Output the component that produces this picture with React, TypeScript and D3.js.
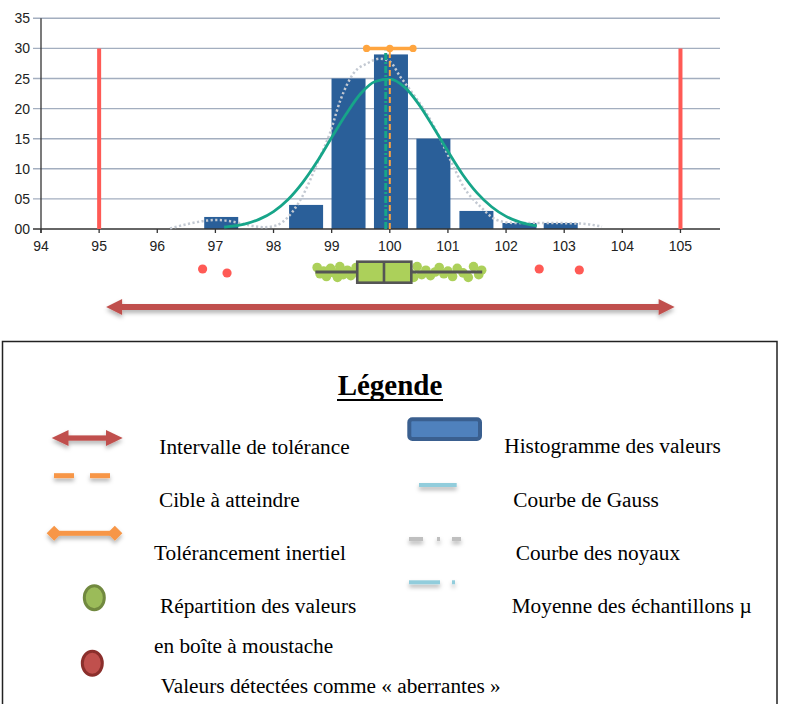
import React from "react";
import * as d3 from "d3";

// ---------- data ----------
const xTicks = [94, 95, 96, 97, 98, 99, 100, 101, 102, 103, 104, 105];
const yTicks = [0, 5, 10, 15, 20, 25, 30, 35];
const yTickLabels = ["00", "05", "10", "15", "20", "25", "30", "35"];

const binCenters = [97.1, 98.56, 99.29, 100.02, 100.75, 101.49, 102.23, 102.94];
const binCounts = [2, 4, 25, 29, 15, 3, 1, 1];

const gaussX = [97.15, 97.5, 97.75, 98.0, 98.25, 98.5, 98.75, 99.0, 99.25, 99.5, 99.75, 100.0, 100.25, 100.5, 100.75, 101.0, 101.25, 101.5, 101.75, 102.0, 102.25, 102.53];
const gaussY = [0.3, 0.8, 1.6, 2.9, 4.9, 7.7, 11.2, 15.2, 19.1, 22.5, 24.5, 24.9, 23.6, 20.7, 16.9, 12.9, 9.1, 6.0, 3.7, 2.1, 1.1, 0.5];

const kernelX = [96.22, 96.56, 96.85, 97.05, 97.31, 97.65, 97.85, 98.05, 98.25, 98.46, 98.8, 98.97, 99.15, 99.38, 99.61, 99.83, 100.0, 100.18, 100.35, 100.7, 101.04, 101.27, 101.56, 101.84, 102.13, 102.7, 103.28, 103.65];
const kernelY = [0.1, 0.9, 1.4, 1.5, 1.2, 0.5, 0.3, 0.6, 2.0, 4.8, 12, 15.9, 21.4, 25.9, 27.5, 28.3, 27.8, 25.3, 23.1, 18.1, 11.5, 7, 3.7, 1.5, 1.0, 1.0, 0.9, 0.4];

const toleranceLimits = [95, 105];
const toleranceLimitHeight = 30;
const target = 100;
const targetHeight = 30;
const sampleMean = 99.93;
const meanHeight = 29.6;
const inertialRange = [99.6, 100.4];
const inertialLevel = 30;

const boxStats = { whiskerLow: 98.72, q1: 99.44, median: 99.9, q3: 100.37, whiskerHigh: 101.59 };
const values = [98.75, 98.8, 98.86, 98.91, 98.98, 99.04, 99.1, 99.14, 99.2, 99.27, 99.33, 99.37, 99.42, 99.47, 99.52, 99.58, 99.63, 99.69, 99.74, 99.8, 99.85, 99.9, 99.96, 100.01, 100.07, 100.12, 100.18, 100.23, 100.29, 100.34, 100.41, 100.47, 100.55, 100.62, 100.7, 100.78, 100.85, 100.93, 101.0, 101.08, 101.16, 101.26, 101.35, 101.44, 101.53, 101.58];
const outliers = [96.78, 97.2, 102.57, 103.26];
const outlierOffsets = [-3, 1, -3, -2];

const toleranceInterval = [95.12, 104.9];

const legendLeft = ["Intervalle de tolérance", "Cible à atteindre", "Tolérancement inertiel", "Répartition des valeurs", "en boîte à moustache", "Valeurs détectées comme « aberrantes »"];
const legendRight = ["Histogramme des valeurs", "Courbe de Gauss", "Courbe des noyaux", "Moyenne des échantillons µ"];

// ---------- component ----------
export default function App() {
  const x = d3.scaleLinear().domain([94, 105.68]).range([41, 720]);
  const y = d3.scaleLinear().domain([0, 35]).range([229, 18.3]);
  const barHalf = 0.2925;

  const line = d3
    .line<[number, number]>()
    .x((d) => x(d[0]))
    .y((d) => y(d[1]))
    .curve(d3.curveMonotoneX);

  const gaussPath = line(gaussX.map((v, i) => [v, gaussY[i]]) as [number, number][]) || "";
  const kernelPath = line(kernelX.map((v, i) => [v, kernelY[i]]) as [number, number][]) || "";

  const boxY = 272;
  const teal = "#17a589";
  const orange = "#ffa53f";
  const arrowRed = "#c0504d";
  const serif = "'Liberation Serif', 'Times New Roman', serif";
  const sans = "'Liberation Sans', Arial, sans-serif";

  const ax0 = x(toleranceInterval[0]);
  const ax1 = x(toleranceInterval[1]);
  const ay = 307;

  const legendText = { fontFamily: serif, fontSize: 21.3, fill: "#000" } as const;
  const jitter = [-5, 2, -1, 5, -4, 1, 6, -6, 3, -2, 4, 0];

  return (
    <svg width={785} height={704} style={{ position: "absolute", left: 0, top: 0, background: "#fff" }}>
      <defs>
        <filter id="sh" filterUnits="userSpaceOnUse" x="0" y="0" width="785" height="704">
          <feGaussianBlur in="SourceAlpha" stdDeviation="2" />
          <feOffset dy="3" result="b" />
          <feFlood floodColor="#000" floodOpacity="0.3" />
          <feComposite in2="b" operator="in" />
          <feMerge>
            <feMergeNode />
            <feMergeNode in="SourceGraphic" />
          </feMerge>
        </filter>
      </defs>

      {/* gridlines */}
      {yTicks.slice(1).map((t) => (
        <line key={"g" + t} x1={33} x2={x(105.68)} y1={y(t)} y2={y(t)} stroke="#a3aebf" strokeWidth={1.4} />
      ))}
      {/* y labels */}
      {yTicks.map((t, i) => (
        <text key={"yl" + t} x={30} y={y(t)} dy="0.36em" textAnchor="end" fontFamily={sans} fontSize={14} fill="#222">
          {yTickLabels[i]}
        </text>
      ))}
      {/* bars */}
      {binCenters.map((c, i) => (
        <rect key={"b" + i} x={x(c - barHalf)} width={x(c + barHalf) - x(c - barHalf)} y={y(binCounts[i])} height={y(0) - y(binCounts[i])} fill="#2a5f99" />
      ))}
      {/* axes */}
      <line x1={41} x2={41} y1={y(35)} y2={233} stroke="#333" strokeWidth={1.3} />
      <line x1={33} x2={x(105.68)} y1={y(0)} y2={y(0)} stroke="#333" strokeWidth={1.5} />
      {xTicks.map((t) => (
        <g key={"xt" + t}>
          <line x1={x(t)} x2={x(t)} y1={y(0)} y2={y(0) + 4} stroke="#333" strokeWidth={1.3} />
          <text x={x(t)} y={251} textAnchor="middle" fontFamily={sans} fontSize={14} fill="#222">
            {t}
          </text>
        </g>
      ))}

      {/* tolerance limits */}
      {toleranceLimits.map((t) => (
        <line key={"tl" + t} x1={x(t)} x2={x(t)} y1={y(0)} y2={y(toleranceLimitHeight)} stroke="#ff5a55" strokeWidth={4} />
      ))}

      {/* kernel curve */}
      <path d={kernelPath} fill="none" stroke="#c3c9d2" strokeWidth={2.5} strokeDasharray="2.2,2.4" />
      {/* gauss curve */}
      <path d={gaussPath} fill="none" stroke={teal} strokeWidth={2.8} />

      {/* mean line */}
      <line x1={x(sampleMean)} x2={x(sampleMean)} y1={y(0)} y2={y(meanHeight)} stroke={teal} strokeWidth={3} strokeDasharray="7,2,2,2" />
      {/* target */}
      <line x1={x(target)} x2={x(target)} y1={y(0)} y2={y(targetHeight)} stroke={orange} strokeWidth={2} strokeDasharray="6,3" />
      {/* inertial tolerance */}
      <line x1={x(inertialRange[0])} x2={x(inertialRange[1])} y1={y(inertialLevel)} y2={y(inertialLevel)} stroke={orange} strokeWidth={3.5} />
      {[inertialRange[0], target, inertialRange[1]].map((v, i) => (
        <circle key={"ic" + i} cx={x(v)} cy={y(inertialLevel)} r={3.6} fill={orange} />
      ))}

      {/* box plot dots */}
      {values.map((v, i) => (
        <circle key={"v" + i} cx={x(v)} cy={boxY + jitter[i % jitter.length] * 0.9} r={4.8} fill="#acd05a" />
      ))}
      <line x1={x(boxStats.whiskerLow)} x2={x(boxStats.whiskerHigh)} y1={boxY} y2={boxY} stroke="#555" strokeWidth={3} />
      <rect x={x(boxStats.q1)} y={261.7} width={x(boxStats.q3) - x(boxStats.q1)} height={21} fill="#acd05a" stroke="#555" strokeWidth={2.6} />
      <line x1={x(boxStats.median)} x2={x(boxStats.median)} y1={261.7} y2={282.7} stroke="#555" strokeWidth={2.6} />
      {/* outliers */}
      {outliers.map((v, i) => (
        <circle key={"o" + i} cx={x(v)} cy={boxY + outlierOffsets[i]} r={4.6} fill="#ff5a55" />
      ))}

      {/* tolerance interval arrow */}
      <g filter="url(#sh)" fill={arrowRed}>
        <rect x={ax0 + 14} y={ay - 3} width={ax1 - ax0 - 28} height={6} />
        <polygon points={`${ax0},${ay} ${ax0 + 16},${ay - 8} ${ax0 + 16},${ay + 8}`} />
        <polygon points={`${ax1},${ay} ${ax1 - 16},${ay - 8} ${ax1 - 16},${ay + 8}`} />
      </g>

      {/* legend box */}
      <rect x={2.5} y={341.5} width={774.5} height={370} fill="none" stroke="#222" strokeWidth={1.5} />
      <text x={390} y={395} textAnchor="middle" fontFamily={serif} fontSize={29} fontWeight="bold" fill="#000">
        Légende
      </text>
      <line x1={337} x2={443} y1={400} y2={400} stroke="#000" strokeWidth={2} />

      {/* left legend icons */}
      <g filter="url(#sh)" fill={arrowRed}>
        <rect x={64} y={435.4} width={47} height={5.3} />
        <polygon points="51.7,438 68.5,430 68.5,446" />
        <polygon points="122.7,438 106,430 106,446" />
      </g>
      <g filter="url(#sh)" fill="#f79646">
        <rect x={54} y={473.2} width={20} height={5} />
        <rect x={90} y={473.2} width={20} height={5} />
      </g>
      <g filter="url(#sh)" fill="#f79646">
        <rect x={52} y={530.8} width={65} height={5} />
        <polygon points="46.7,533.3 54.2,525.8 61.7,533.3 54.2,540.8" />
        <polygon points="122.3,533.3 114.8,525.8 107.3,533.3 114.8,540.8" />
      </g>
      <ellipse cx={94.3} cy={597.7} rx={10} ry={12} fill="#9bbb59" stroke="#71893f" strokeWidth={3} />
      <ellipse cx={92.3} cy={663.3} rx={10} ry={12} fill="#c0504d" stroke="#8b2f2c" strokeWidth={3} />

      <text x={159.3} y={454.3} {...legendText}>{legendLeft[0]}</text>
      <text x={159} y={506.7} {...legendText}>{legendLeft[1]}</text>
      <text x={154} y={560} {...legendText}>{legendLeft[2]}</text>
      <text x={160} y={613.3} {...legendText}>{legendLeft[3]}</text>
      <text x={154} y={653} {...legendText}>{legendLeft[4]}</text>
      <text x={160.7} y={693.3} {...legendText}>{legendLeft[5]}</text>

      {/* right legend icons */}
      <rect x={409.3} y={419.3} width={70.7} height={19.7} rx={3} fill="#4f81bd" stroke="#3a5f8f" strokeWidth={4} />
      <g filter="url(#sh)" fill="#92cddc">
        <rect x={419} y={483} width={37.7} height={4} />
      </g>
      <g filter="url(#sh)" fill="#bfbfbf">
        <rect x={409} y={537} width={14} height={4} />
        <rect x={437} y={537} width={3} height={4} />
        <rect x={452} y={537} width={9} height={4} />
      </g>
      <g filter="url(#sh)" fill="#92cddc">
        <rect x={409} y={580.3} width={31} height={4} />
        <rect x={452} y={580.3} width={3} height={4} />
      </g>

      <text x={504.3} y={453.3} {...legendText}>{legendRight[0]}</text>
      <text x={513.3} y={506.7} {...legendText}>{legendRight[1]}</text>
      <text x={515.7} y={560} {...legendText}>{legendRight[2]}</text>
      <text x={511.7} y={613.3} {...legendText}>{legendRight[3]}</text>
    </svg>
  );
}
